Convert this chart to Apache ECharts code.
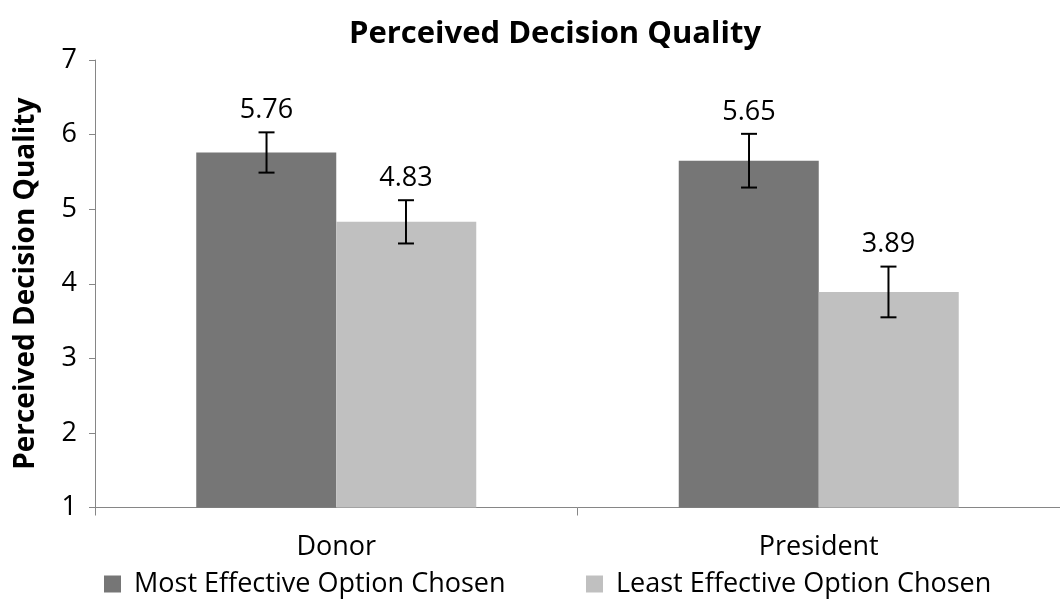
<!DOCTYPE html>
<html><head><meta charset="utf-8">
<script src="https://cdn.jsdelivr.net/npm/echarts@6/dist/echarts.min.js"></script>
<style>html,body{margin:0;padding:0;background:#fff}#c{width:1060px;height:601px}</style>
</head><body><div id="c"></div>
<script>
const categories = ['Donor', 'President'];
const seriesNames = ['Most Effective Option Chosen', 'Least Effective Option Chosen'];
const mostValues = [5.76, 5.65];
const leastValues = [4.83, 3.89];
const mostErrors = [0.27, 0.36];
const leastErrors = [0.29, 0.34];
const yTicks = [1, 2, 3, 4, 5, 6, 7];

const FONT = '"Open Sans"';
const colors = ['#767676', '#c0c0c0'];

function errSeries(values, errors, side) {
  return {
    type: 'custom',
    z: 10,
    data: values.map((v, i) => [i, v, errors[i]]),
    renderItem: function (params, api) {
      const i = api.value(0), v = api.value(1), e = api.value(2);
      const band = api.size([1, 0])[0];
      const off = side * band * 0.1445;
      const c = api.coord([i, v]);
      const top = api.coord([i, v + e]);
      const bot = api.coord([i, v - e]);
      const x = c[0] + off;
      const cap = 8;
      const st = { stroke: '#000', lineWidth: 2 };
      return {
        type: 'group',
        children: [
          { type: 'line', shape: { x1: x, y1: top[1], x2: x, y2: bot[1] }, style: st },
          { type: 'line', shape: { x1: x - cap, y1: top[1], x2: x + cap, y2: top[1] }, style: st },
          { type: 'line', shape: { x1: x - cap, y1: bot[1], x2: x + cap, y2: bot[1] }, style: st },
          { type: 'text', style: { x: x, y: top[1] - 22, text: v.toFixed(2), fill: '#000',
              font: '27px ' + FONT, textAlign: 'center', textVerticalAlign: 'middle' } }
        ]
      };
    }
  };
}

const legendText = { fontFamily: FONT, fontSize: 27, lineHeight: 30, color: '#000', padding: [0, 0, 0, 8] };

const chart = echarts.init(document.getElementById('c'));
chart.setOption({
  animation: false,
  title: { text: 'Perceived Decision Quality', left: 550, top: 14, textAlign: 'center',
    textStyle: { fontFamily: FONT, fontWeight: 'bold', fontSize: 31, color: '#000' } },
  legend: [
    { data: [seriesNames[0]], left: 104, top: 569, padding: 0, icon: 'rect', itemWidth: 17, itemHeight: 17, itemGap: 0,
      textStyle: legendText },
    { data: [seriesNames[1]], left: 586, top: 569, padding: 0, icon: 'rect', itemWidth: 17, itemHeight: 17, itemGap: 0,
      textStyle: legendText }
  ],
  grid: { left: 95, right: -8, top: 60, bottom: 93.5, containLabel: false },
  xAxis: {
    type: 'category', data: categories,
    axisLine: { lineStyle: { color: '#868686', width: 1 } },
    axisTick: { show: true, length: 8, lineStyle: { color: '#868686' } },
    axisLabel: { fontFamily: FONT, fontSize: 27, lineHeight: 30, color: '#000', margin: 25 }
  },
  yAxis: {
    type: 'value', min: 1, max: 7, interval: 1,
    name: 'Perceived Decision Quality', nameLocation: 'middle', nameGap: 55, nameRotate: 90,
    nameTextStyle: { fontFamily: FONT, fontWeight: 'bold', fontSize: 28, color: '#000' },
    axisLine: { show: true, lineStyle: { color: '#868686', width: 1 } },
    axisTick: { show: true, length: 6, lineStyle: { color: '#868686' } },
    splitLine: { show: false },
    axisLabel: { fontFamily: FONT, fontSize: 27, color: '#000', margin: 18,
      formatter: v => yTicks.includes(v) ? String(v) : '' }
  },
  series: [
    { name: seriesNames[0], type: 'bar', data: mostValues, barWidth: 140, barGap: '0%',
      itemStyle: { color: colors[0] } },
    { name: seriesNames[1], type: 'bar', data: leastValues, barWidth: 140, barGap: '0%',
      itemStyle: { color: colors[1] } },
    errSeries(mostValues, mostErrors, -1),
    errSeries(leastValues, leastErrors, 1)
  ]
});
</script></body></html>
